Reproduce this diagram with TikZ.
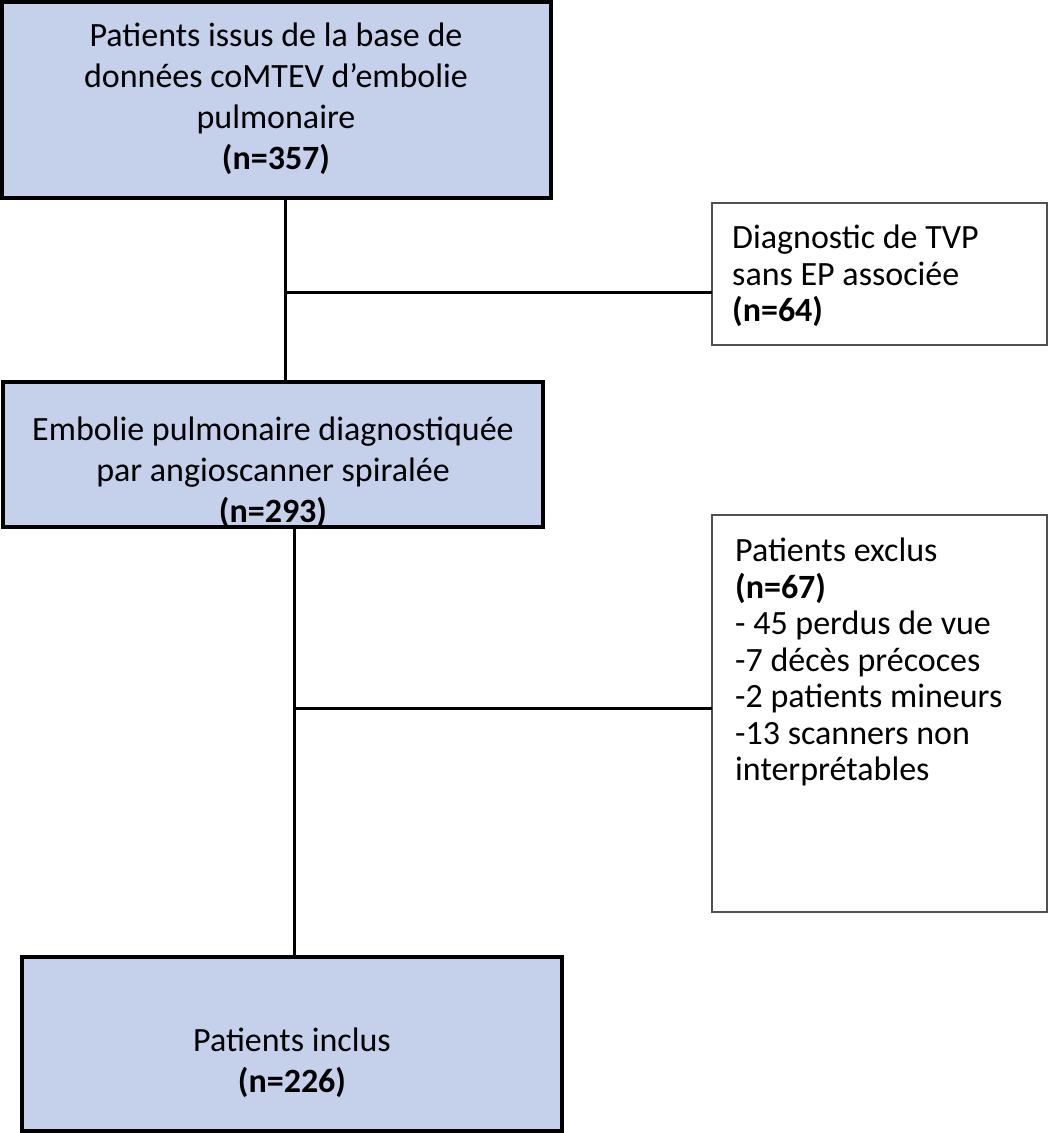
\documentclass[tikz,border=0pt]{standalone}
\usepackage{fontspec}
\setmainfont{Carlito}
\definecolor{boxblue}{RGB}{197,208,234}
\definecolor{edgegray}{RGB}{80,80,80}
\begin{document}
\begin{tikzpicture}[x=1pt,y=-1pt,
 mainbox/.style={draw=black,line width=3.2pt,fill=boxblue,inner sep=0pt,outer sep=0pt},
 sidebox/.style={draw=edgegray,line width=2pt,fill=white,inner sep=0pt,outer sep=0pt},
 conn/.style={draw=black,line width=3pt},
 ctext/.style={inner sep=0pt,align=center,font=\fontsize{34}{41}\selectfont},
 ltext/.style={inner sep=0pt,align=left,font=\fontsize{34}{36.5}\selectfont,anchor=north west}]
\useasboundingbox (0,0) rectangle (1049,1133);
\fill[white] (0,0) rectangle (1049,1133);

% boxes
\node[mainbox,minimum width=549pt,minimum height=196pt] (b1) at (276.5,100) {};
\node[mainbox,minimum width=540pt,minimum height=145pt] (b2) at (273,454.5) {};
\node[mainbox,minimum width=540pt,minimum height=174pt] (b4) at (292,1044) {};
\node[sidebox,minimum width=335pt,minimum height=142pt] (diag) at (879.5,274) {};
\node[sidebox,minimum width=335pt,minimum height=397pt] (excl) at (879.5,713.5) {};

% texts
\node[ctext,anchor=north] (t1) at (276,23) {Patients issus de la base de\\données coMTEV d’embolie\\pulmonaire\\\textbf{(n=357)}};
\begin{scope}
\clip (b2.south west) rectangle (b2.north east);
\node[ctext,anchor=north] (t2) at (273,417) {Embolie pulmonaire diagnostiquée\\par angioscanner spiralée\\\textbf{(n=293)}};
\end{scope}
\node[ctext,anchor=north] (t4) at (292,1028) {Patients inclus\\\textbf{(n=226)}};
\node[ltext] (td) at (732,225) {Diagnostic de TVP\\sans EP associée\\\textbf{(n=64)}};
\node[ltext] (te) at (735,538) {Patients exclus\\\textbf{(n=67)}\\- 45 perdus de vue\\-7 décès précoces\\-2 patients mineurs\\-13 scanners non\\interprétables};

% connectors
\coordinate (j1) at (285,292);
\coordinate (j2) at (294,708);
\draw[conn] (b1.south -| j1) -- (b2.north -| j1);
\draw[conn] (j1) -- (diag.west |- j1);
\draw[conn] (b2.south -| j2) -- (b4.north -| j2);
\draw[conn] (j2) -- (excl.west |- j2);
\end{tikzpicture}
\end{document}
